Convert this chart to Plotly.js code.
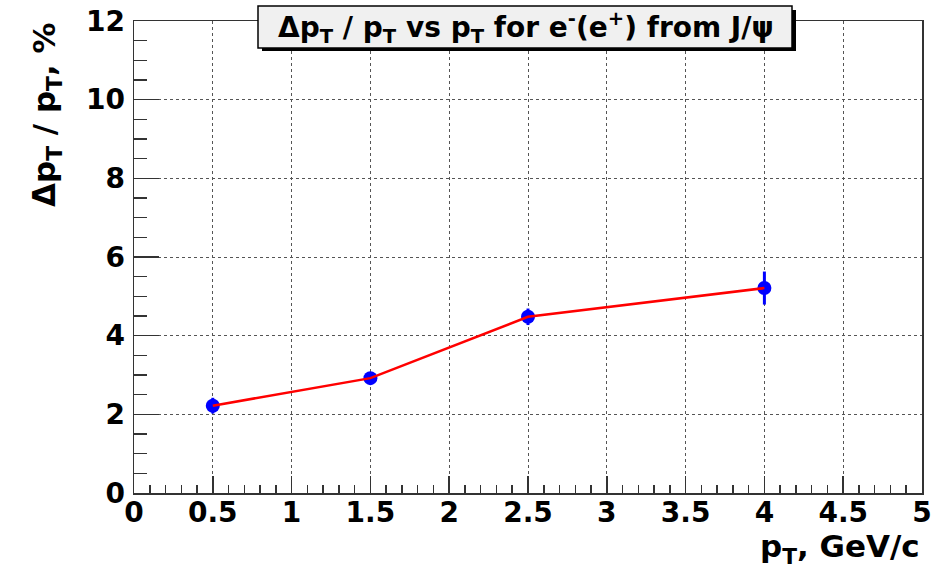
<!DOCTYPE html>
<html>
<head>
<meta charset="utf-8">
<script src="https://cdn.plot.ly/plotly-3.0.1.min.js"></script>
<style>html,body{margin:0;padding:0;background:#fff;}#chart{width:933px;height:569px;}</style>
</head>
<body>
<div id="chart"></div>
<script>
const ptValues = [0.5, 1.5, 2.5, 4.0];
const resolution = [2.22, 2.92, 4.48, 5.21];
const resolutionErr = [0.2, 0.12, 0.21, 0.42];
const xTickVals = [0, 0.5, 1, 1.5, 2, 2.5, 3, 3.5, 4, 4.5, 5];
const xTickText = ['0', '0.5', '1', '1.5', '2', '2.5', '3', '3.5', '4', '4.5', '5'];
const yTickVals = [0, 2, 4, 6, 8, 10, 12];
const yTickText = ['0', '2', '4', '6', '8', '10', '12'];

const FONT = 'DejaVu Sans, Liberation Sans, Arial, sans-serif';

const lineTrace = {
  x: ptValues, y: resolution, type: 'scatter', mode: 'lines',
  line: {color: '#ff0000', width: 2.5}, hoverinfo: 'skip', showlegend: false
};
const pointTrace = {
  x: ptValues, y: resolution, type: 'scatter', mode: 'markers',
  marker: {color: '#0000ff', size: 14, symbol: 'circle'},
  error_y: {type: 'data', array: resolutionErr, visible: true, color: '#0000ff', thickness: 3, width: 0},
  showlegend: false
};

const axisCommon = {
  showline: true, linecolor: '#333', linewidth: 1.5, mirror: true,
  ticks: 'inside', tickcolor: '#333', tickwidth: 1.5,
  showgrid: true, gridcolor: '#555', griddash: 'dot', gridwidth: 1,
  zeroline: false,
  tickfont: {family: FONT, size: 28, color: '#000', weight: 'bold'},
  tickmode: 'array'
};

const layout = {
  width: 933, height: 569,
  margin: {l: 134, r: 11, t: 21, b: 76},
  paper_bgcolor: '#fff', plot_bgcolor: '#fff',
  showlegend: false,
  xaxis: Object.assign({}, axisCommon, {
    range: [0, 5], tickvals: xTickVals, ticktext: xTickText,
    ticklen: 17, ticklabelstandoff: -6,
    minor: {dtick: 0.1, ticklen: 8, tickcolor: '#333', tickwidth: 1.5, ticks: 'inside', showgrid: false}
  }),
  yaxis: Object.assign({}, axisCommon, {
    range: [0, 12], tickvals: yTickVals, ticktext: yTickText,
    ticklen: 25, ticklabelstandoff: 2,
    minor: {dtick: 0.5, ticklen: 13, tickcolor: '#333', tickwidth: 1.5, ticks: 'inside', showgrid: false}
  }),
  shapes: [
    {type: 'rect', xref: 'paper', yref: 'paper', layer: 'above',
     x0: (262 - 134) / 788, x1: (796 - 134) / 788, y0: (493 - 51) / 472, y1: (493 - 10) / 472,
     fillcolor: '#000', line: {width: 0}},
    {type: 'rect', xref: 'paper', yref: 'paper', layer: 'above',
     x0: (258 - 134) / 788, x1: (792 - 134) / 788, y0: (493 - 48) / 472, y1: (493 - 6) / 472,
     fillcolor: '#f0f0f0', line: {color: '#000', width: 1.5}}
  ],
  annotations: [
    {text: '<b>Δp<sub>T</sub> / p<sub>T</sub> vs p<sub>T</sub> for e<sup>-</sup>(e<sup>+</sup>) from J/ψ</b>',
     xref: 'paper', yref: 'paper', x: (526 - 134) / 788, y: (493 - 28) / 472,
     xanchor: 'center', yanchor: 'middle', showarrow: false,
     font: {family: FONT, size: 28, color: '#000'}},
    {text: '<b>p<sub>T</sub>, GeV/c</b>',
     xref: 'paper', yref: 'paper', x: 1, y: -(548 - 493) / 472,
     xanchor: 'right', yanchor: 'middle', showarrow: false,
     font: {family: FONT, size: 31, color: '#000'}},
    {text: '<b>Δp<sub>T</sub> / p<sub>T</sub>, %</b>', textangle: -90,
     xref: 'paper', yref: 'paper', x: -(134 - 46) / 788, y: (493 - 115) / 472,
     xanchor: 'center', yanchor: 'middle', showarrow: false,
     font: {family: FONT, size: 31, color: '#000'}}
  ]
};

Plotly.newPlot('chart', [pointTrace, lineTrace], layout, {displayModeBar: false, staticPlot: true});
</script>
</body>
</html>
